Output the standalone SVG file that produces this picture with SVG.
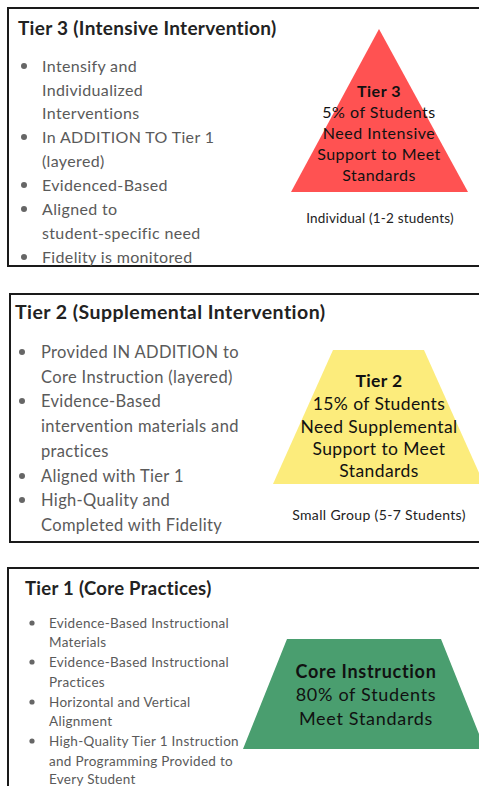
<svg xmlns="http://www.w3.org/2000/svg" width="479" height="786" viewBox="0 0 479 786">
<style>
.panel{fill:#fff;stroke:#1a1a1a;stroke-width:2}
text{font-family:Lato,"Liberation Sans",sans-serif}
.title{font-weight:bold;fill:#222}
.b{font-size:16px;fill:#5a5a5a;letter-spacing:0.35px}
.b2{font-size:16.5px;fill:#5a5a5a;letter-spacing:0.35px}
.b1{font-size:13.5px;fill:#5a5a5a;letter-spacing:0.3px}
.dot{fill:#666}
.t{font-size:16px;fill:#111;text-anchor:middle;letter-spacing:0.5px}
.t2{font-size:17.5px;fill:#111;text-anchor:middle;letter-spacing:0.4px}
.t1{font-size:18px;fill:#111;text-anchor:middle;letter-spacing:0.7px}
.tb{font-weight:bold}
.cap{fill:#222;text-anchor:middle}
</style>
<rect width="479" height="786" fill="#fff"/>
<g id="tier3">
<rect class="panel" x="8" y="8" width="480" height="258"/>
<text class="title" x="18" y="35" style="font-size:19px;letter-spacing:0.3px">Tier 3 (Intensive Intervention)</text>
<circle class="dot" cx="24" cy="66" r="3"/>
<circle class="dot" cx="24" cy="137" r="3"/>
<circle class="dot" cx="24" cy="185" r="3"/>
<circle class="dot" cx="24" cy="209" r="3"/>
<circle class="dot" cx="24" cy="257" r="3"/>
<text class="b" x="42" y="72">Intensify and</text>
<text class="b" x="42" y="96">Individualized</text>
<text class="b" x="42" y="119">Interventions</text>
<text class="b" x="42" y="143">In ADDITION TO Tier 1</text>
<text class="b" x="42" y="167">(layered)</text>
<text class="b" x="42" y="191">Evidenced-Based</text>
<text class="b" x="42" y="215">Aligned to</text>
<text class="b" x="42" y="239">student-specific need</text>
<text class="b" x="42" y="263">Fidelity is monitored</text>
<polygon points="379,29 468,192 291,192" fill="#ff5252"/>
<text class="t tb" x="379" y="97">Tier 3</text>
<text class="t" x="379" y="118">5% of Students</text>
<text class="t" x="379" y="139">Need Intensive</text>
<text class="t" x="379" y="160">Support to Meet</text>
<text class="t" x="379" y="181">Standards</text>
<text class="cap" x="380" y="223" style="font-size:13.5px;letter-spacing:0.2px">Individual (1-2 students)</text>
</g>
<g id="tier2">
<rect class="panel" x="10" y="294" width="480" height="248"/>
<text class="title" x="15" y="319" style="font-size:19.5px;letter-spacing:0.45px">Tier 2 (Supplemental Intervention)</text>
<circle class="dot" cx="22" cy="352" r="3"/>
<circle class="dot" cx="22" cy="401" r="3"/>
<circle class="dot" cx="22" cy="476" r="3"/>
<circle class="dot" cx="22" cy="500" r="3"/>
<text class="b2" x="41" y="358">Provided IN ADDITION to</text>
<text class="b2" x="41" y="383">Core Instruction (layered)</text>
<text class="b2" x="41" y="407">Evidence-Based</text>
<text class="b2" x="41" y="432">intervention materials and</text>
<text class="b2" x="41" y="457">practices</text>
<text class="b2" x="41" y="482">Aligned with Tier 1</text>
<text class="b2" x="41" y="506">High-Quality and</text>
<text class="b2" x="41" y="531">Completed with Fidelity</text>
<polygon points="333,350 424,350 484,484 273,484" fill="#fcec7c"/>
<text class="t2 tb" x="379" y="387">Tier 2</text>
<text class="t2" x="379" y="410">15% of Students</text>
<text class="t2" x="379" y="433">Need Supplemental</text>
<text class="t2" x="379" y="455">Support to Meet</text>
<text class="t2" x="379" y="477">Standards</text>
<text class="cap" x="379" y="520" style="font-size:14px;letter-spacing:0.35px">Small Group (5-7 Students)</text>
</g>
<g id="tier1">
<rect class="panel" x="8" y="568" width="480" height="240"/>
<text class="title" x="25" y="595" style="font-size:18.5px;letter-spacing:0.3px">Tier 1 (Core Practices)</text>
<circle class="dot" cx="32" cy="623" r="2.6"/>
<circle class="dot" cx="32" cy="662" r="2.6"/>
<circle class="dot" cx="32" cy="702" r="2.6"/>
<circle class="dot" cx="32" cy="741" r="2.6"/>
<text class="b1" x="49" y="628">Evidence-Based Instructional</text>
<text class="b1" x="49" y="647">Materials</text>
<text class="b1" x="49" y="667">Evidence-Based Instructional</text>
<text class="b1" x="49" y="687">Practices</text>
<text class="b1" x="49" y="707">Horizontal and Vertical</text>
<text class="b1" x="49" y="726">Alignment</text>
<text class="b1" x="49" y="746">High-Quality Tier 1 Instruction</text>
<text class="b1" x="49" y="766">and Programming Provided to</text>
<text class="b1" x="49" y="784">Every Student</text>
<polygon points="287,639 441,639 485,749 243,749" fill="#4a9e6f"/>
<text class="t1 tb" x="366" y="678">Core Instruction</text>
<text class="t1" x="366" y="701">80% of Students</text>
<text class="t1" x="366" y="725">Meet Standards</text>
</g>
</svg>
